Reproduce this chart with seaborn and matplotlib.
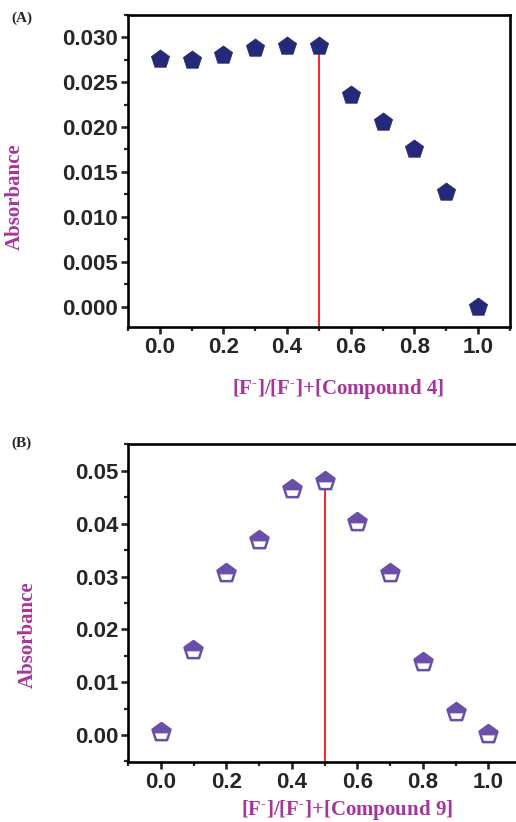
import numpy as np
import pandas as pd
import matplotlib
matplotlib.use("Agg")
import matplotlib.pyplot as plt
from matplotlib.ticker import MultipleLocator
from matplotlib.path import Path
import seaborn as sns

# Job's plot data
mole_fraction = [0.0, 0.1, 0.2, 0.3, 0.4, 0.5, 0.6, 0.7, 0.8, 0.9, 1.0]
absorb_cpd4 = [0.0276, 0.0275, 0.0280, 0.0288, 0.0290, 0.0290,
               0.0236, 0.0206, 0.0176, 0.0128, 0.0000]
absorb_cpd9 = [0.0006, 0.0160, 0.0306, 0.0369, 0.0465, 0.0481,
               0.0404, 0.0306, 0.0138, 0.0044, 0.0002]
peak_x = 0.5

xlabel_4 = r"[F$^{\text{-}}$]/[F$^{\text{-}}$]+[Compound 4]"
xlabel_9 = r"[F$^{\text{-}}$]/[F$^{\text{-}}$]+[Compound 9]"

sns.set_style("ticks")
plt.rcParams["font.family"] = ["Liberation Sans", "DejaVu Sans"]
plt.rcParams["font.weight"] = "bold"
plt.rcParams["mathtext.fontset"] = "custom"
plt.rcParams["mathtext.rm"] = "Liberation Serif:bold"
plt.rcParams["mathtext.it"] = "Liberation Serif:bold"
plt.rcParams["mathtext.bf"] = "Liberation Serif:bold"

LABEL_COLOR = "#a8359c"
NAVY = "#252a78"
PURPLE = "#6a4fa8"

# upper part of a unit pentagon, used as the filled cap of the (B) markers
cap_marker = Path([(0, 1), (0.951, 0.309), (0.835, -0.05),
                   (-0.835, -0.05), (-0.951, 0.309), (0, 1)], closed=True)

df4 = pd.DataFrame({"x": mole_fraction, "y": absorb_cpd4})
df9 = pd.DataFrame({"x": mole_fraction, "y": absorb_cpd9})

fig = plt.figure(figsize=(5.16, 8.22), dpi=100)
ax1 = fig.add_axes([0.248, 0.602, 0.740, 0.380])
ax2 = fig.add_axes([0.248, 0.073, 0.762, 0.387])


def style_axes(ax, ymajor, yminor):
    for side in ["left", "bottom", "top", "right"]:
        ax.spines[side].set_linewidth(1.9)
        ax.spines[side].set_color("black")
    ax.xaxis.set_major_locator(MultipleLocator(0.2))
    ax.xaxis.set_minor_locator(MultipleLocator(0.1))
    ax.yaxis.set_major_locator(MultipleLocator(ymajor))
    ax.yaxis.set_minor_locator(MultipleLocator(yminor))
    ax.tick_params(which="major", direction="out", length=5, width=1.9,
                   labelsize=16, top=False, right=False, pad=2)
    ax.tick_params(which="minor", direction="out", length=3, width=1.6,
                   top=False, right=False)
    for lab in ax.get_xticklabels() + ax.get_yticklabels():
        lab.set_fontweight("bold")


label_font = dict(color=LABEL_COLOR, fontsize=15, family="Liberation Serif",
                  fontweight="bold")

# (A) compound 4
ax1.axvline(peak_x, ymin=0, ymax=(0.0290 + 0.0023) / (0.0325 + 0.0023),
            color="#ff2020", lw=1.4, zorder=1)
sns.scatterplot(data=df4, x="x", y="y", ax=ax1, marker="p", s=190,
                color=NAVY, edgecolor=NAVY, linewidth=0.5, zorder=3, legend=False)
ax1.set_xlim(-0.1, 1.1)
ax1.set_ylim(-0.0023, 0.0325)
style_axes(ax1, 0.005, 0.0025)
ax1.yaxis.set_major_formatter(plt.FormatStrFormatter("%.3f"))
ax1.xaxis.set_major_formatter(plt.FormatStrFormatter("%.1f"))
ax1.set_xlabel(xlabel_4, **label_font)
ax1.set_ylabel("Absorbance", **label_font)
ax1.xaxis.set_label_coords(0.55, -0.160)
ax1.yaxis.set_label_coords(-0.27, 0.417)
fig.text(0.022, 0.978, "(A)", family="Liberation Serif", fontweight="bold",
         fontsize=11, va="center", ha="left")

# (B) compound 9
ax2.axvline(peak_x, ymin=0, ymax=(0.0481 + 0.0051) / (0.0551 + 0.0051),
            color="#ff2020", lw=1.4, zorder=1)
sns.scatterplot(data=df9, x="x", y="y", ax=ax2, marker="p", s=185,
                facecolor="white", edgecolor=PURPLE, linewidth=1.8,
                zorder=3, legend=False)
sns.scatterplot(data=df9, x="x", y="y", ax=ax2, marker=cap_marker, s=185,
                color=PURPLE, edgecolor=PURPLE, linewidth=0.6,
                zorder=4, legend=False)
ax2.set_xlim(-0.1, 1.1)
ax2.set_ylim(-0.0051, 0.0551)
style_axes(ax2, 0.01, 0.005)
ax2.yaxis.set_major_formatter(plt.FormatStrFormatter("%.2f"))
ax2.xaxis.set_major_formatter(plt.FormatStrFormatter("%.1f"))
ax2.set_xlabel(xlabel_9, **label_font)
ax2.set_ylabel("Absorbance", **label_font)
ax2.xaxis.set_label_coords(0.557, -0.113)
ax2.yaxis.set_label_coords(-0.229, 0.40)
fig.text(0.022, 0.461, "(B)", family="Liberation Serif", fontweight="bold",
         fontsize=11, va="center", ha="left")

fig.savefig("out.png", dpi=100)
